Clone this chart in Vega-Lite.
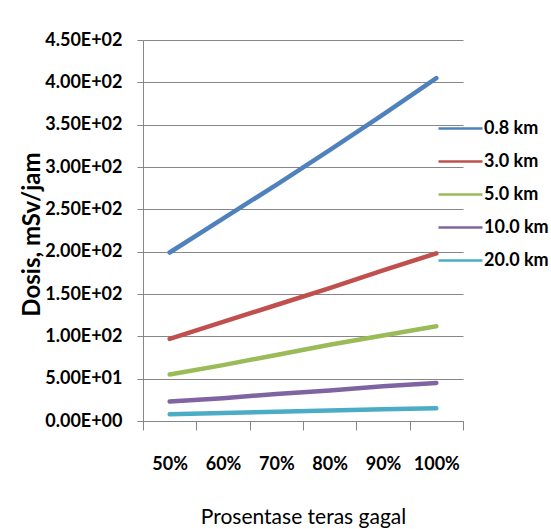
{
  "$schema": "https://vega.github.io/schema/vega-lite/v6.json",
  "width": 320,
  "height": 381,
  "autosize": {"type": "none"},
  "padding": {"left": 143, "top": 40, "right": 88, "bottom": 108},
  "background": "white",
  "config": {
    "view": {"stroke": null},
    "font": "Lato"
  },
  "data": {
    "values": [
      {"teras": "50%", "jarak": "0.8 km", "dosis": 199},
      {"teras": "60%", "jarak": "0.8 km", "dosis": 239},
      {"teras": "70%", "jarak": "0.8 km", "dosis": 279},
      {"teras": "80%", "jarak": "0.8 km", "dosis": 320},
      {"teras": "90%", "jarak": "0.8 km", "dosis": 362},
      {"teras": "100%", "jarak": "0.8 km", "dosis": 405},
      {"teras": "50%", "jarak": "3.0 km", "dosis": 97},
      {"teras": "60%", "jarak": "3.0 km", "dosis": 117},
      {"teras": "70%", "jarak": "3.0 km", "dosis": 137},
      {"teras": "80%", "jarak": "3.0 km", "dosis": 157},
      {"teras": "90%", "jarak": "3.0 km", "dosis": 178},
      {"teras": "100%", "jarak": "3.0 km", "dosis": 198},
      {"teras": "50%", "jarak": "5.0 km", "dosis": 55},
      {"teras": "60%", "jarak": "5.0 km", "dosis": 66},
      {"teras": "70%", "jarak": "5.0 km", "dosis": 78},
      {"teras": "80%", "jarak": "5.0 km", "dosis": 90},
      {"teras": "90%", "jarak": "5.0 km", "dosis": 101},
      {"teras": "100%", "jarak": "5.0 km", "dosis": 112},
      {"teras": "50%", "jarak": "10.0 km", "dosis": 23},
      {"teras": "60%", "jarak": "10.0 km", "dosis": 27},
      {"teras": "70%", "jarak": "10.0 km", "dosis": 32},
      {"teras": "80%", "jarak": "10.0 km", "dosis": 36},
      {"teras": "90%", "jarak": "10.0 km", "dosis": 41},
      {"teras": "100%", "jarak": "10.0 km", "dosis": 45},
      {"teras": "50%", "jarak": "20.0 km", "dosis": 8},
      {"teras": "60%", "jarak": "20.0 km", "dosis": 9.5},
      {"teras": "70%", "jarak": "20.0 km", "dosis": 11},
      {"teras": "80%", "jarak": "20.0 km", "dosis": 12.5},
      {"teras": "90%", "jarak": "20.0 km", "dosis": 14},
      {"teras": "100%", "jarak": "20.0 km", "dosis": 15}
    ]
  },
  "mark": {"type": "line", "strokeWidth": 4.5, "strokeCap": "round", "strokeJoin": "round"},
  "encoding": {
    "x": {
      "field": "teras",
      "type": "ordinal",
      "sort": ["50%", "60%", "70%", "80%", "90%", "100%"],
      "scale": {"type": "band", "paddingInner": 0, "paddingOuter": 0},
      "bandPosition": 0.5,
      "axis": {
        "title": "Prosentase teras gagal",
        "labelAngle": 0,
        "tickBand": "extent",
        "tickSize": 9,
        "tickColor": "#868686",
        "domainColor": "#868686",
        "grid": false,
        "labelFontSize": 18,
        "labelFontWeight": "bold",
        "labelColor": "#000000",
        "labelPadding": 25,
        "titleFontSize": 21,
        "titleFontWeight": "normal",
        "titleColor": "#000000",
        "titleBaseline": "middle",
        "titleY": 96
      }
    },
    "y": {
      "field": "dosis",
      "type": "quantitative",
      "scale": {"domain": [0, 450], "nice": false},
      "axis": {
        "title": "Dosis, mSv/jam",
        "values": [0, 50, 100, 150, 200, 250, 300, 350, 400, 450],
        "labelExpr": "upper(replace(format(datum.value, '.2e'), 'e+', 'E+0'))",
        "tickSize": 6,
        "tickColor": "#868686",
        "domainColor": "#868686",
        "gridColor": "#868686",
        "labelFontSize": 18,
        "labelFontWeight": "bold",
        "labelColor": "#000000",
        "labelPadding": 15,
        "titleFontSize": 24,
        "titleFontWeight": "bold",
        "titleColor": "#000000",
        "titleX": -99,
        "titleY": 194,
        "titleAlign": "center"
      }
    },
    "color": {
      "field": "jarak",
      "type": "nominal",
      "sort": ["0.8 km", "3.0 km", "5.0 km", "10.0 km", "20.0 km"],
      "scale": {
        "domain": ["0.8 km", "3.0 km", "5.0 km", "10.0 km", "20.0 km"],
        "range": ["#4F81BD", "#C0504D", "#9BBB59", "#8064A2", "#4BACC6"]
      },
      "legend": {
        "title": null,
        "orient": "none",
        "legendX": 294,
        "legendY": 72,
        "padding": 0,
        "symbolType": "stroke",
        "symbolSize": 1936,
        "symbolStrokeWidth": 2.5,
        "clipHeight": 33,
        "rowPadding": 0,
        "labelOffset": 0,
        "labelFontSize": 18,
        "labelFontWeight": "bold",
        "labelColor": "#000000"
      }
    }
  }
}
